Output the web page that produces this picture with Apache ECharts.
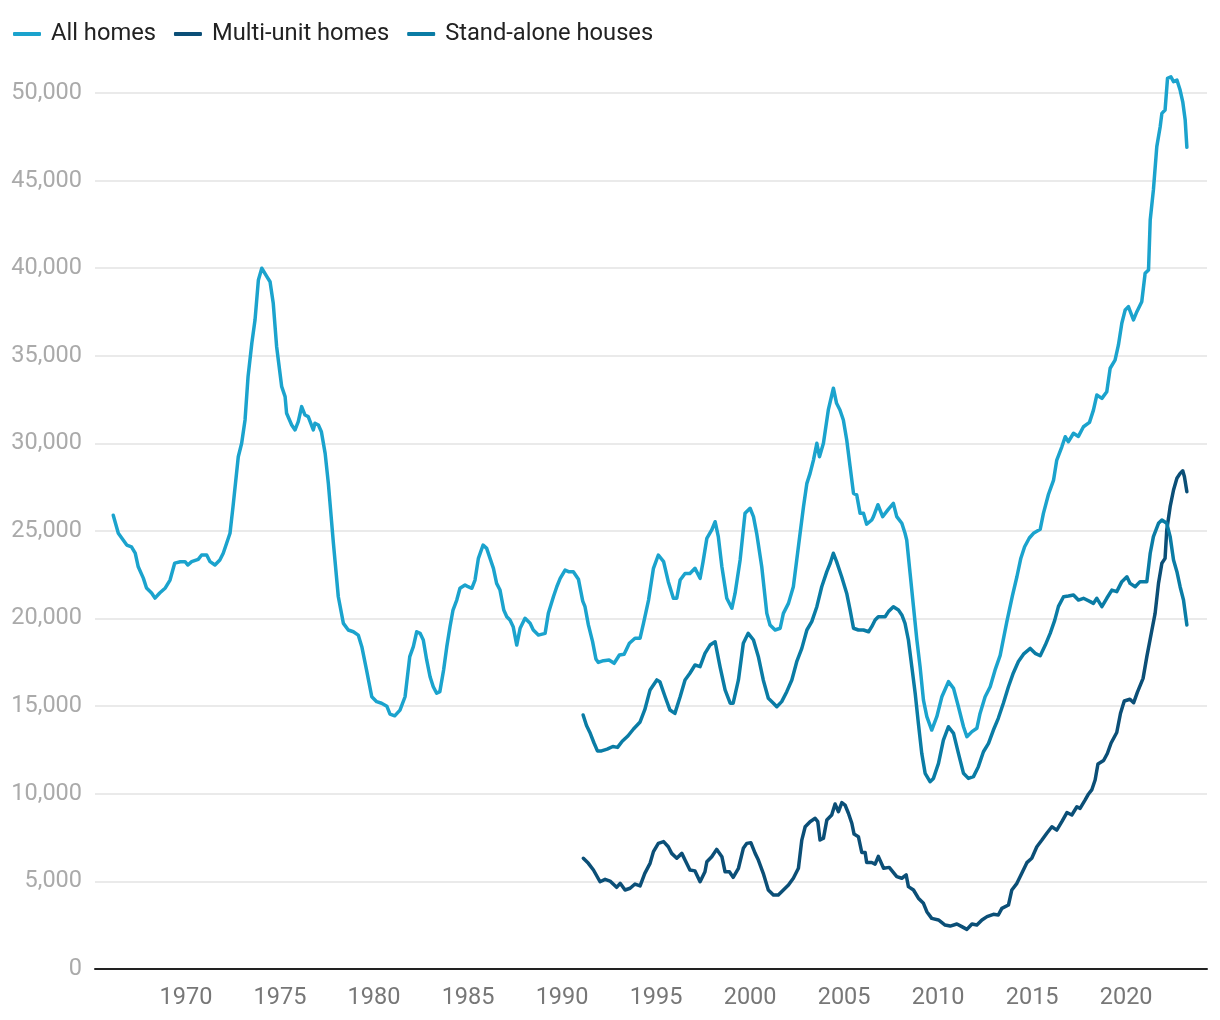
<!DOCTYPE html>
<html>
<head>
<meta charset="utf-8">
<script src="https://cdn.jsdelivr.net/npm/echarts@6/dist/echarts.min.js"></script>
<style>
html,body{margin:0;padding:0;background:#fff;}
#chart{width:1220px;height:1020px;}
</style>
</head>
<body>
<div id="chart"></div>
<script>
// [year (fractional), value]
const allHomes = [
[1966.13,25900],[1966.4,24870],[1966.85,24200],[1967.1,24100],[1967.3,23740],[1967.46,22960],[1967.73,22310],[1967.9,21750],
[1968.17,21460],[1968.35,21170],[1968.6,21460],[1968.9,21750],[1969.15,22200],[1969.4,23170],[1969.7,23250],[1969.95,23250],
[1970.1,23060],[1970.3,23250],[1970.65,23380],[1970.83,23630],[1971.1,23630],[1971.28,23250],[1971.54,23060],[1971.8,23350],
[1971.98,23730],[1972.16,24300],[1972.34,24870],[1972.5,26390],[1972.78,29240],[1972.96,30010],[1973.14,31340],[1973.3,33810],
[1973.5,35720],[1973.67,37040],[1973.85,39330],[1974.03,40000],[1974.3,39520],[1974.47,39230],[1974.64,38000],[1974.82,35520],
[1975.09,33240],[1975.27,32670],[1975.35,31720],[1975.62,31050],[1975.8,30770],[1975.97,31240],[1976.15,32100],[1976.33,31620],
[1976.5,31530],[1976.77,30770],[1976.86,31150],[1977.04,31050],[1977.2,30670],[1977.4,29430],[1977.57,27720],[1977.84,24300],
[1978.1,21250],[1978.37,19730],[1978.63,19350],[1978.9,19250],[1979.16,19060],[1979.35,18400],[1979.6,17070],[1979.88,15540],
[1980.14,15260],[1980.4,15170],[1980.68,15000],[1980.85,14550],[1981.1,14450],[1981.38,14780],[1981.65,15540],[1981.9,17830],
[1982.09,18400],[1982.27,19250],[1982.45,19160],[1982.62,18780],[1982.8,17640],[1982.98,16680],[1983.15,16110],[1983.33,15740],
[1983.5,15830],[1983.7,17070],[1983.87,18400],[1984.04,19540],[1984.2,20490],[1984.4,21060],[1984.57,21730],[1984.84,21920],
[1985.0,21820],[1985.2,21730],[1985.37,22200],[1985.55,23440],[1985.8,24200],[1985.99,24010],[1986.17,23440],[1986.35,22870],
[1986.52,22010],[1986.7,21630],[1986.9,20490],[1987.06,20110],[1987.23,19920],[1987.4,19540],[1987.59,18490],[1987.77,19450],
[1988.03,20020],[1988.3,19730],[1988.47,19350],[1988.74,19060],[1989.1,19160],[1989.27,20300],[1989.54,21250],[1989.72,21820],
[1989.9,22300],[1990.16,22770],[1990.34,22680],[1990.6,22680],[1990.87,22250],[1991.1,21000],[1991.22,20680],[1991.4,19640],
[1991.62,18700],[1991.8,17700],[1991.93,17500],[1992.2,17600],[1992.5,17640],[1992.77,17450],[1993.05,17920],[1993.3,17970],
[1993.58,18590],[1993.88,18880],[1994.15,18880],[1994.33,19730],[1994.6,21060],[1994.86,22870],[1995.12,23630],[1995.4,23250],
[1995.65,22110],[1995.92,21160],[1996.1,21160],[1996.28,22200],[1996.54,22580],[1996.8,22580],[1997.07,22870],[1997.34,22300],
[1997.5,23250],[1997.7,24580],[1997.96,25060],[1998.14,25530],[1998.31,24680],[1998.5,22960],[1998.76,21160],[1999.03,20590],
[1999.2,21440],[1999.47,23350],[1999.73,26010],[2000.0,26300],[2000.18,25820],[2000.35,24870],[2000.62,22960],[2000.89,20300],
[2001.06,19640],[2001.33,19350],[2001.6,19450],[2001.77,20300],[2002.04,20870],[2002.3,21820],[2002.48,23350],[2002.66,24870],
[2002.84,26390],[2003.02,27720],[2003.19,28290],[2003.37,29050],[2003.55,30010],[2003.69,29240],[2003.9,30010],[2004.16,31910],
[2004.43,33150],[2004.6,32290],[2004.78,31910],[2004.96,31340],[2005.14,30200],[2005.32,28670],[2005.5,27150],[2005.67,27060],
[2005.85,26010],[2006.03,26010],[2006.2,25390],[2006.47,25630],[2006.56,25820],[2006.8,26500],[2007.05,25820],[2007.36,26250],
[2007.62,26580],[2007.8,25820],[2008.07,25440],[2008.24,24870],[2008.33,24490],[2008.51,22580],[2008.69,20680],[2008.87,18780],
[2009.04,17260],[2009.22,15350],[2009.4,14400],[2009.66,13640],[2009.93,14400],[2010.2,15540],[2010.55,16400],[2010.82,16020],
[2011.08,14970],[2011.35,13830],[2011.53,13260],[2011.8,13550],[2012.06,13740],[2012.23,14590],[2012.5,15540],[2012.77,16110],
[2013.03,17070],[2013.3,17900],[2013.65,19800],[2013.95,21300],[2014.19,22390],[2014.4,23450],[2014.6,24100],[2014.85,24600],
[2015.07,24870],[2015.43,25100],[2015.6,26010],[2015.87,27100],[2016.14,27910],[2016.31,29050],[2016.58,29810],[2016.76,30380],
[2016.93,30100],[2017.2,30580],[2017.46,30400],[2017.73,30950],[2018.05,31200],[2018.26,31900],[2018.44,32760],[2018.71,32570],
[2018.97,32950],[2019.15,34290],[2019.41,34760],[2019.59,35620],[2019.77,36860],[2019.95,37620],[2020.12,37810],[2020.39,37050],
[2020.57,37520],[2020.83,38090],[2021.01,39710],[2021.19,39900],[2021.28,42750],[2021.45,44470],[2021.63,46940],[2021.81,48080],
[2021.9,48840],[2022.07,49030],[2022.2,50840],[2022.38,50930],[2022.52,50650],[2022.7,50740],[2022.87,50170],[2023.01,49500],
[2023.14,48460],[2023.23,46900]
];

const multiUnitHomes = [
[1991.13,6320],[1991.4,6030],[1991.67,5650],[1992.02,4980],[1992.29,5120],[1992.55,5020],[1992.9,4660],[1993.09,4890],
[1993.35,4510],[1993.62,4610],[1993.88,4850],[1994.15,4740],[1994.4,5460],[1994.68,6030],[1994.86,6700],[1995.12,7170],
[1995.4,7270],[1995.65,6980],[1995.83,6600],[1996.1,6320],[1996.37,6600],[1996.54,6220],[1996.8,5650],[1997.07,5600],
[1997.34,4980],[1997.6,5550],[1997.7,6120],[1997.96,6410],[1998.22,6830],[1998.5,6410],[1998.67,5550],[1998.9,5550],
[1999.1,5230],[1999.38,5750],[1999.64,6890],[1999.82,7170],[2000.04,7210],[2000.27,6600],[2000.44,6220],[2000.7,5460],
[2000.97,4510],[2001.24,4220],[2001.5,4220],[2001.77,4510],[2002.04,4790],[2002.3,5180],[2002.57,5750],[2002.75,7360],
[2002.93,8120],[2003.19,8410],[2003.46,8600],[2003.6,8410],[2003.72,7360],[2003.9,7460],[2004.08,8500],[2004.34,8790],
[2004.52,9420],[2004.7,8980],[2004.88,9500],[2005.05,9360],[2005.23,8890],[2005.41,8320],[2005.53,7700],[2005.76,7550],
[2005.94,6650],[2006.12,6650],[2006.2,6080],[2006.47,6080],[2006.65,5990],[2006.82,6430],[2007.1,5750],[2007.4,5800],
[2007.8,5270],[2008.07,5180],[2008.3,5370],[2008.42,4700],[2008.69,4510],[2008.95,4040],[2009.22,3750],[2009.4,3270],
[2009.66,2890],[2010.02,2800],[2010.37,2510],[2010.64,2450],[2011.0,2570],[2011.26,2420],[2011.53,2260],[2011.8,2570],
[2012.06,2510],[2012.33,2800],[2012.6,2990],[2012.94,3120],[2013.2,3080],[2013.39,3460],[2013.74,3650],[2013.92,4510],
[2014.19,4890],[2014.45,5460],[2014.72,6070],[2014.98,6320],[2015.25,6980],[2015.52,7360],[2015.78,7750],[2016.05,8120],
[2016.31,7930],[2016.58,8410],[2016.85,8930],[2017.11,8790],[2017.38,9260],[2017.55,9170],[2017.82,9650],[2018.0,9990],
[2018.17,10220],[2018.35,10790],[2018.5,11700],[2018.8,11900],[2019.0,12300],[2019.2,12900],[2019.5,13500],[2019.7,14600],
[2019.9,15300],[2020.2,15400],[2020.4,15200],[2020.6,15800],[2020.9,16590],[2021.1,17830],[2021.37,19350],[2021.54,20300],
[2021.72,22010],[2021.9,23160],[2022.07,23440],[2022.16,25060],[2022.34,26390],[2022.52,27340],[2022.7,28010],[2022.87,28290],
[2023.01,28440],[2023.1,28100],[2023.23,27240]
];

const standAloneHouses = [
[1991.12,14500],[1991.3,13900],[1991.5,13450],[1991.7,12900],[1991.88,12450],[1992.1,12450],[1992.4,12550],[1992.7,12700],
[1992.95,12650],[1993.2,13000],[1993.5,13300],[1993.8,13700],[1994.15,14100],[1994.4,14800],[1994.68,15930],[1995.04,16500],
[1995.2,16400],[1995.48,15540],[1995.74,14780],[1996.0,14590],[1996.28,15540],[1996.54,16500],[1996.8,16880],[1997.07,17350],
[1997.34,17260],[1997.6,18020],[1997.87,18490],[1998.14,18680],[1998.4,17260],[1998.67,15930],[1998.94,15170],[1999.1,15170],
[1999.38,16500],[1999.64,18590],[1999.9,19160],[2000.18,18780],[2000.44,17830],[2000.7,16500],[2000.97,15450],[2001.24,15170],
[2001.42,14970],[2001.68,15260],[2001.95,15830],[2002.22,16500],[2002.48,17540],[2002.75,18300],[2003.02,19350],[2003.28,19830],
[2003.55,20680],[2003.81,21820],[2004.08,22680],[2004.26,23160],[2004.43,23730],[2004.6,23250],[2004.87,22390],[2005.14,21440],
[2005.32,20490],[2005.5,19450],[2005.76,19350],[2006.03,19350],[2006.3,19250],[2006.47,19540],[2006.65,19920],[2006.82,20110],
[2007.18,20110],[2007.36,20400],[2007.62,20680],[2007.89,20490],[2008.07,20210],[2008.24,19730],[2008.42,18780],[2008.6,17260],
[2008.78,15740],[2008.95,14020],[2009.13,12310],[2009.31,11170],[2009.57,10690],[2009.75,10880],[2010.02,11740],[2010.28,13070],
[2010.55,13830],[2010.82,13450],[2011.08,12310],[2011.35,11170],[2011.61,10880],[2011.88,10980],[2012.14,11550],[2012.41,12400],
[2012.68,12880],[2012.94,13640],[2013.2,14310],[2013.47,15170],[2013.74,16110],[2014.0,16900],[2014.27,17550],[2014.54,17970],
[2014.9,18300],[2015.16,18020],[2015.43,17880],[2015.7,18490],[2015.96,19160],[2016.2,19900],[2016.4,20700],[2016.67,21250],
[2016.93,21290],[2017.2,21350],[2017.46,21060],[2017.73,21160],[2018.09,20970],[2018.26,20870],[2018.44,21160],[2018.71,20680],
[2018.97,21160],[2019.24,21630],[2019.5,21540],[2019.77,22110],[2020.04,22390],[2020.21,22010],[2020.48,21820],[2020.74,22110],
[2021.1,22110],[2021.28,23730],[2021.45,24680],[2021.72,25440],[2021.9,25630],[2022.16,25440],[2022.34,24680],[2022.52,23350],
[2022.7,22680],[2022.87,21820],[2023.05,21060],[2023.23,19640]
];

const seriesNames = ['All homes', 'Multi-unit homes', 'Stand-alone houses'];
const xTickYears = [1970, 1975, 1980, 1985, 1990, 1995, 2000, 2005, 2010, 2015, 2020];
const colors = ['#1ba3cd', '#0b4f77', '#0a7ca5'];

const chart = echarts.init(document.getElementById('chart'), null, {renderer: 'canvas'});
const mk = (name, data, color) => ({
  name, type: 'line', data, symbol: 'none', smooth: false,
  lineStyle: {color, width: 3.5, join: 'round', cap: 'round'},
  itemStyle: {color}, emphasis: {disabled: true}, animation: false
});
chart.setOption({
  animation: false,
  textStyle: {fontFamily: 'Roboto'},
  color: colors,
  legend: {
    left: 8, top: 17,
    icon: 'roundRect', itemWidth: 28, itemHeight: 4, itemGap: 18,
    textStyle: {fontSize: 23.7, color: '#222', fontFamily: 'Roboto', padding: [0, 0, 0, 5]},
    data: seriesNames
  },
  grid: {left: 95, right: 13, top: 58, bottom: 51, containLabel: false},
  xAxis: {
    type: 'value', min: 1965.16, max: 2024.3,
    splitLine: {show: false},
    axisTick: {show: false},
    axisLine: {show: true, lineStyle: {color: '#222', width: 2}},
    axisLabel: {customValues: xTickYears, color: '#777', fontSize: 23.5, margin: 17, formatter: v => String(v)}
  },
  yAxis: {
    type: 'value', min: 0, max: 52000, interval: 5000,
    axisLine: {show: false}, axisTick: {show: false},
    splitLine: {show: true, showMaxLine: false, showMinLine: false, lineStyle: {color: '#e3e3e3', width: 1.5}},
    axisLabel: {color: '#aaa', fontSize: 23.5, margin: 13, showMaxLabel: false,
      formatter: v => v.toLocaleString('en-US')}
  },
  series: [
    mk(seriesNames[0], allHomes, colors[0]),
    mk(seriesNames[1], multiUnitHomes, colors[1]),
    mk(seriesNames[2], standAloneHouses, colors[2])
  ]
});
</script>
</body>
</html>
